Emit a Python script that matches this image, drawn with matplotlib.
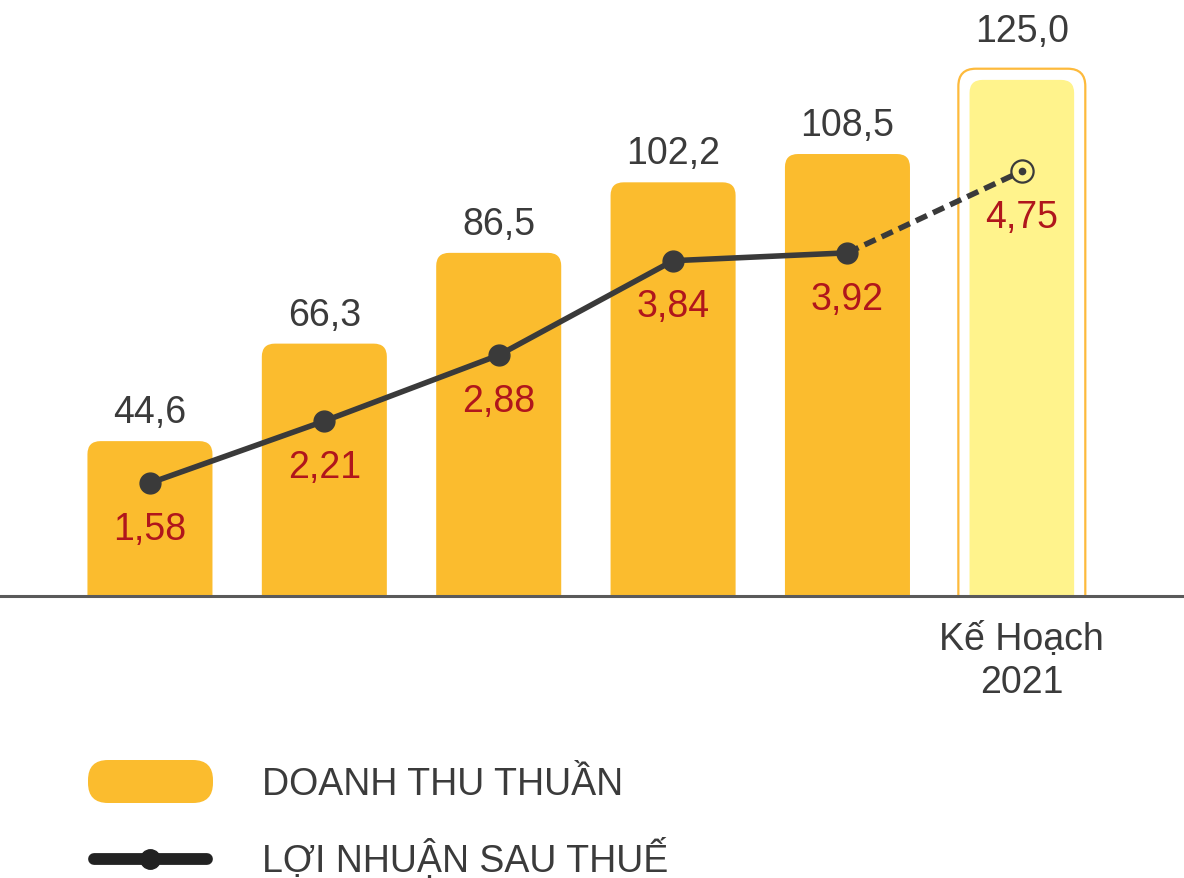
import matplotlib
matplotlib.use('Agg')
import matplotlib.pyplot as plt
from matplotlib.patches import FancyBboxPatch
from matplotlib.lines import Line2D

plt.rcParams['font.family'] = ['Liberation Sans', 'DejaVu Sans']

# data
categories = ['', '', '', '', '', 'Kế Hoạch\n2021']
revenue = [44.6, 66.3, 86.5, 102.2, 108.5, 125.0]
revenue_labels = ['44,6', '66,3', '86,5', '102,2', '108,5', '125,0']
profit = [1.58, 2.21, 2.88, 3.84, 3.92, 4.75]
profit_labels = ['1,58', '2,21', '2,88', '3,84', '3,92', '4,75']
legend_labels = ['DOANH THU THUẦN', 'LỢI NHUẬN SAU THUẾ']

BAR = '#FBBC2E'
PLAN = '#FFF38C'
PLAN_EDGE = '#FDBA3C'
LINE = '#3a3a3a'
TXT = '#3b3b3b'
RED = '#B0161C'
FS = 27

W, H = 1184, 879
fig = plt.figure(figsize=(W / 100, H / 100), dpi=100)
ax = fig.add_axes([0, 1 - 597 / H, 1, 597 / H])
ax2 = ax.twinx()

xlim = (-0.86, 5.93)
ylim = (10.13, 143.0)
ax.set_xlim(*xlim)
ax.set_ylim(*ylim)
ax2.set_ylim(0.432, 6.5)

for a in (ax, ax2):
    for s in ('top', 'left', 'right'):
        a.spines[s].set_visible(False)
    a.set_yticks([])
ax2.spines['bottom'].set_visible(False)
ax.spines['bottom'].set_color('#5a5a5a')
ax.spines['bottom'].set_linewidth(2.2)
ax.set_xticks(range(len(categories)))
ax.set_xticklabels(categories, fontsize=FS, color=TXT, linespacing=1.25)
ax.tick_params(axis='x', length=0, pad=18)

# aspect between y and x data units per pixel, for rounded corners
aspect = ((ylim[1] - ylim[0]) / 597) / ((xlim[1] - xlim[0]) / W)

n = len(revenue)
for i, v in enumerate(revenue):
    last = i == n - 1
    w = 0.60 if last else 0.717
    if last:
        edge = FancyBboxPatch((i - w / 2, 0), w, v,
                              boxstyle='round,pad=0.064,rounding_size=0.1',
                              mutation_aspect=aspect, facecolor='white',
                              edgecolor=PLAN_EDGE, linewidth=1.6, zorder=1)
        ax.add_patch(edge)
    p = FancyBboxPatch((i - w / 2, 0), w, v,
                       boxstyle='round,pad=0,rounding_size=0.075',
                       mutation_aspect=aspect,
                       facecolor=PLAN if last else BAR, edgecolor='none', zorder=2)
    ax.add_patch(p)
    ax.annotate(revenue_labels[i], (i, v), xytext=(0, 22 if last else 8),
                textcoords='offset points', ha='center', va='bottom',
                fontsize=FS, color=TXT)

# profit line
xs = list(range(n))
ax2.plot(xs[:-1], profit[:-1], color=LINE, lw=4, marker='o', ms=15,
         solid_capstyle='round', zorder=5)
ax2.plot(xs[-2:], profit[-2:], color=LINE, lw=4, dashes=(2.2, 1.2), zorder=4)
ax2.plot(xs[-1], profit[-1], marker='o', ms=16, mfc=PLAN, mec=LINE, mew=1.6, zorder=6)
ax2.plot(xs[-1], profit[-1], marker='o', ms=4.5, color=LINE, zorder=7)
for i, v in enumerate(profit):
    ax2.annotate(profit_labels[i], (i, v), xytext=(0, -20),
                 textcoords='offset points', ha='center', va='top',
                 fontsize=FS, color=RED, zorder=8)

# legend
t = fig.dpi_scale_trans
fig.patches.append(FancyBboxPatch((0.88 + 0.2, 0.75 + 0.2), 1.25 - 0.4, 0.43 - 0.4,
                                  boxstyle='round,pad=0.2', transform=t,
                                  facecolor=BAR, edgecolor='none'))
fig.lines.append(Line2D([0.94, 2.07], [0.19, 0.19], transform=t, color='#222222',
                        lw=8.5, solid_capstyle='round'))
fig.lines.append(Line2D([1.5], [0.19], transform=t, color='#222222', marker='o', ms=14))
fig.text(2.62, 0.94, legend_labels[0], transform=t, fontsize=FS, color=TXT, va='center')
fig.text(2.62, 0.19, legend_labels[1], transform=t, fontsize=FS, color=TXT, va='center')

fig.savefig('out.png', dpi=100)
